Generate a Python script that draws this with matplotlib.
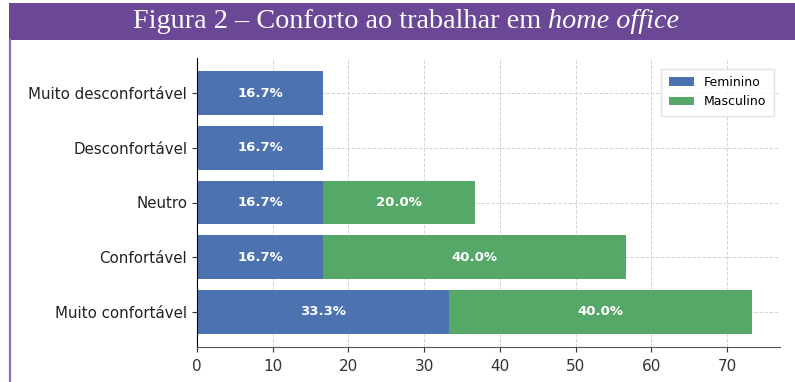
import matplotlib.pyplot as plt
from matplotlib.patches import Rectangle
from matplotlib.lines import Line2D

# Respostas sobre conforto no home office, por gênero (%)
categorias = ['Muito confortável', 'Confortável', 'Neutro', 'Desconfortável', 'Muito desconfortável']
feminino = [33.3, 16.7, 16.7, 16.7, 16.7]
masculino = [40.0, 40.0, 20.0, 0.0, 0.0]
titulo = 'Figura 2 – Conforto ao trabalhar em '
titulo_italico = 'home office'

azul = '#4C72B0'
verde = '#55A868'
roxo = '#6A4896'

fig = plt.figure(figsize=(7.95, 3.82), dpi=100)

# faixa do título e borda lateral
fig.patches.append(Rectangle((9 / 795, 1 - 40 / 382), 1, 37 / 382, transform=fig.transFigure,
                             facecolor=roxo, edgecolor='none', zorder=0))
fig.lines.append(Line2D([10 / 795, 10 / 795], [0, 1 - 40 / 382], transform=fig.transFigure,
                        color='#8B6DB8', lw=1.6))
t1 = fig.text(133 / 795, 1 - 22 / 382, titulo, color='white', fontsize=20.3,
              family='Liberation Serif', va='center', ha='left')
fig.canvas.draw()
bb = t1.get_window_extent()
fig.text(bb.x1 / fig.bbox.width, 1 - 22 / 382, titulo_italico, color='white', fontsize=20.3,
         family='Liberation Serif', style='italic', va='center', ha='left')

ax = fig.add_axes([197 / 795, 35 / 382, 583 / 795, 289 / 382])
y = range(len(categorias))
b1 = ax.barh(y, feminino, height=0.8, color=azul, label='Feminino', zorder=2)
b2 = ax.barh(y, masculino, height=0.8, left=feminino, color=verde, label='Masculino', zorder=2)

for barras, vals in ((b1, feminino), (b2, masculino)):
    for barra, v in zip(barras, vals):
        if v > 0:
            ax.text(barra.get_x() + barra.get_width() / 2, barra.get_y() + barra.get_height() / 2,
                    f'{v:.1f}%', color='white', fontweight='bold', fontsize=9.5,
                    ha='center', va='center', zorder=3)

ax.set_yticks(list(y))
ax.set_yticklabels(categorias, fontsize=10.8)
ax.set_xlim(0, 77)
ax.set_xticks(range(0, 80, 10))
ax.tick_params(axis='x', labelsize=11, colors='#333333', pad=5)
ax.tick_params(axis='y', colors='#333333')
for lbl in ax.get_yticklabels():
    lbl.set_color('#222222')
ax.grid(True, linestyle='--', color='#d4d4d4', linewidth=0.7, zorder=0)
ax.set_axisbelow(True)
ax.spines['top'].set_visible(False)
ax.spines['right'].set_visible(False)
ax.spines['bottom'].set_color('#555555')
ax.legend(loc='upper right', fontsize=9, frameon=True, fancybox=False,
          edgecolor='#dddddd', borderpad=0.6, bbox_to_anchor=(1.0, 0.985))

fig.savefig('out.png', dpi=100)
